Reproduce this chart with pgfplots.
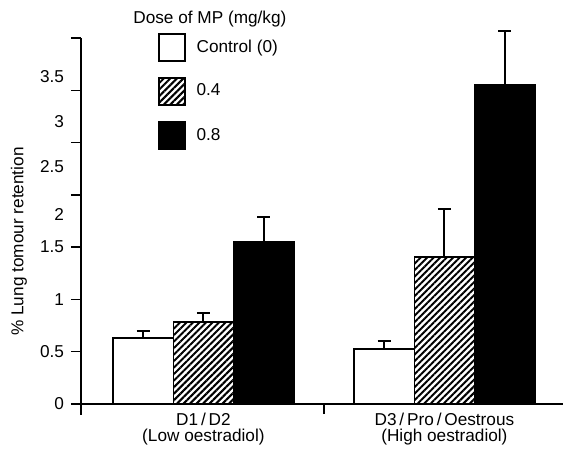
\documentclass[border=0pt]{standalone}
\usepackage{pgfplots}
\pgfplotsset{compat=1.18}
\usepackage{fontspec}
\setmainfont{Liberation Sans}
\usetikzlibrary{patterns.meta}

\begin{document}
\begin{tikzpicture}
\path[use as bounding box] (-40.5pt,-26.5pt) rectangle (241pt,202pt);
\begin{axis}[
    at={(0,0)}, anchor=south west,
    scale only axis,
    width=241pt, height=183pt,
    xmin=-0.508, xmax=1.492,
    ymin=0, ymax=3.5,
    clip=false,
    axis x line=bottom, axis y line=left,
    axis line style={-, line width=0.8pt},
    tick align=outside,
    major tick length=5pt,
    tick style={line width=0.7pt, black},
    font=\fontsize{8.6}{8.2}\selectfont,
    /pgf/number format/assume math mode=true,
    ytick={0,0.5,...,3.5},
    yticklabels={0,0.5,1,1.5,,,,},
    extra y ticks={1.817,2.266,2.697,3.127},
    extra y tick labels={2,2.5,3,3.5},
    extra y tick style={major tick length=0pt, yticklabel style={xshift=-5pt}},
    xtick={0.5},
    xticklabels={},
    extra x ticks={0,1},
    extra x tick labels={{D1\,/\,D2\\(Low oestradiol)},{D3\,/\,Pro\,/\,Oestrous\\(High oestradiol)}},
    extra x tick style={major tick length=0pt},
    x tick label style={align=center, yshift=-1pt},
    ylabel={\% Lung tomour retention},
    every axis y label/.style={at={(rel axis cs:0,0.444)}, rotate=90, anchor=center, yshift=31pt},
    legend image code/.code={\draw[#1, line width=0.8pt] (0pt,-6.75pt) rectangle (13pt,6.75pt);},
    legend style={draw=none, fill=none, inner sep=0pt, outer sep=0pt,
        at={(rel axis cs:0.1598,1.0137)}, anchor=north west,
        row sep=7.75pt, column sep=5.5pt,
        nodes={inner sep=0pt, anchor=west},
        font=\fontsize{8.6}{9}\selectfont},
    legend cell align=left,
    errs/.style={forget plot, draw=none, mark=none, line width=1pt,
        error bars/.cd, y dir=plus, y explicit, error mark=-,
        error bar style={line width=1pt, draw=black, solid},
        error mark options={rotate=90, line width=1pt, mark size=3.3pt, draw=black, solid}},
]
\addplot[ybar, bar width=0.25, bar shift=0, draw=black, fill=white, line width=0.8pt]
    coordinates {(-0.25,0.634) (0.75,0.526)};
\addlegendentry{Control (0)}
\addplot[ybar, bar width=0.25, bar shift=0, draw=black, line width=0.8pt,
    pattern={Lines[angle=45, distance=2.3pt, line width=1pt]}]
    coordinates {(0,0.784) (1,1.403)};
\addlegendentry{0.4}
\addplot[ybar, bar width=0.25, bar shift=0, draw=black, fill=black, line width=0.8pt]
    coordinates {(0.25,1.552) (1.25,3.051)};
\addlegendentry{0.8}
% error bars (upper only)
\addplot[errs] coordinates {(-0.25,0.634) +- (0,0.067) (0.75,0.526) +- (0,0.074)};
\addplot[errs] coordinates {(0,0.784) +- (0,0.083) (1,1.403) +- (0,0.465)};
\addplot[errs] coordinates {(0.25,1.552) +- (0,0.233) (1.25,3.051) +- (0,0.519)};
\node[anchor=west, inner sep=0pt, font=\fontsize{8.6}{9}\selectfont] at (rel axis cs:0.1079,1.0519) {Dose of MP (mg/kg)};
\draw[line width=0.8pt] (rel axis cs:0,0) -- ++(0pt,-5.5pt);
\end{axis}
\end{tikzpicture}
\end{document}
